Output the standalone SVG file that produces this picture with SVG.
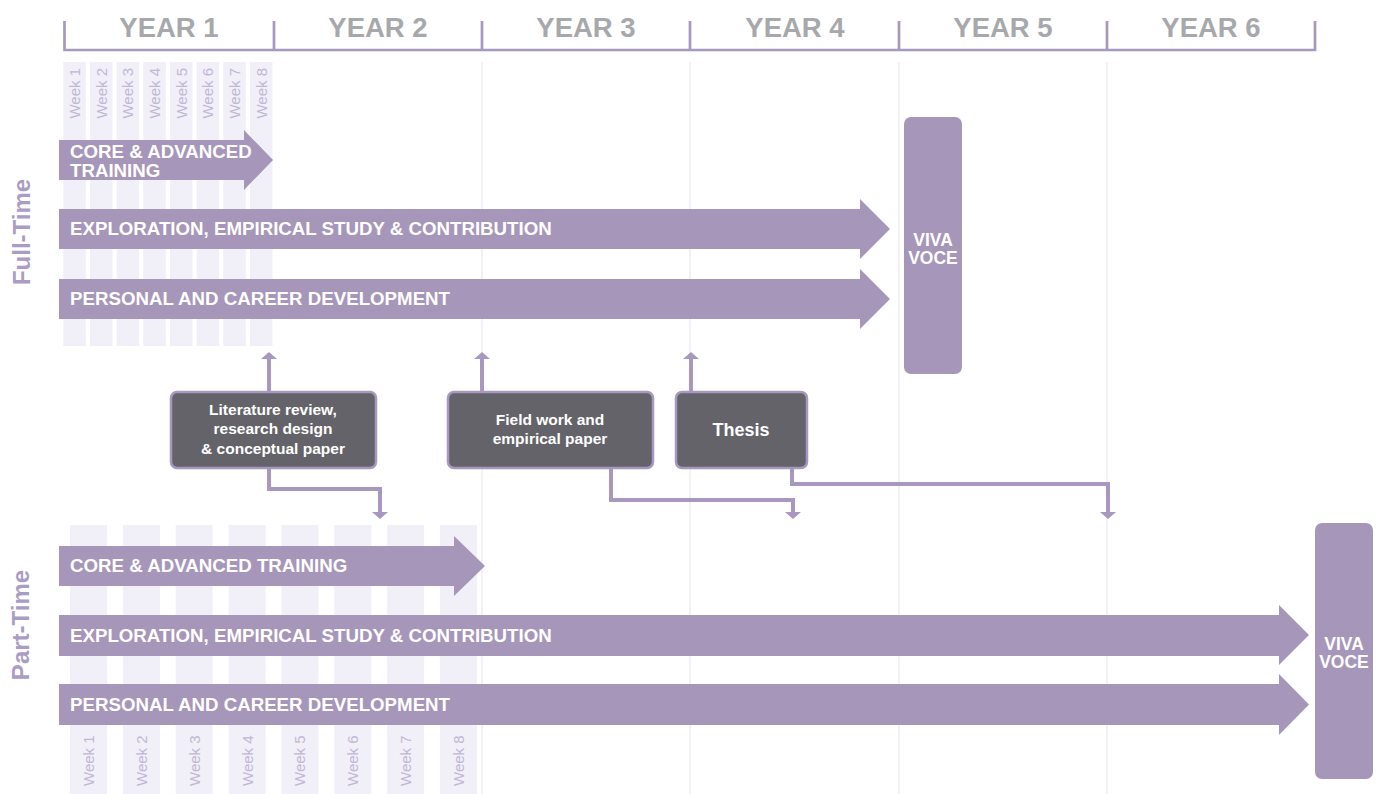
<svg xmlns="http://www.w3.org/2000/svg" width="1383" height="794" viewBox="0 0 1383 794">
<style>
.year{font-family:"Liberation Sans",Arial,sans-serif;font-weight:bold;font-size:27.5px;fill:#a7a8ab;text-anchor:middle}
.wk{font-family:"Liberation Sans",Arial,sans-serif;font-size:15px;fill:#c2b7d6}
.col{fill:#f1eff8}
.grid{stroke:#f2f1f7;stroke-width:2}
.bar{fill:#a696ba}
.bt{font-family:"Liberation Sans",Arial,sans-serif;font-weight:bold;font-size:18.7px;fill:#ffffff}
.viva{fill:#a696ba}
.vt{font-family:"Liberation Sans",Arial,sans-serif;font-weight:bold;font-size:17.5px;fill:#ffffff;text-anchor:middle}
.side{font-family:"Liberation Sans",Arial,sans-serif;font-weight:bold;font-size:24px;fill:#ab9cc4;text-anchor:middle}
.box{fill:#636369;stroke:#a898c0;stroke-width:2.5}
.boxt{font-family:"Liberation Sans",Arial,sans-serif;font-weight:bold;font-size:15.5px;fill:#ffffff;text-anchor:middle}
.conn{fill:none;stroke:#a898c0;stroke-width:4}
.head{fill:#a898c0}
</style>
<defs>
<marker id="ah" markerUnits="userSpaceOnUse" markerWidth="7" markerHeight="16" refX="0" refY="8" orient="auto" viewBox="0 0 7 16">
<polygon points="0,0 7,8 0,16" class="head"/>
</marker>
</defs>
<rect x="0" y="0" width="1383" height="794" fill="#ffffff"/>

<g id="grid">
<line class="grid" x1="482" y1="62" x2="482" y2="794"/>
<line class="grid" x1="690" y1="62" x2="690" y2="794"/>
<line class="grid" x1="899" y1="62" x2="899" y2="794"/>
<line class="grid" x1="1107" y1="62" x2="1107" y2="794"/>
</g>

<g id="timeline">
<path d="M64.5,21 V50 H1315 V21 M274,21 V50 M482,21 V50 M690,21 V50 M899,21 V50 M1107,21 V50" fill="none" stroke="#a898c0" stroke-width="2.7"/>
<text class="year" x="169" y="37">YEAR 1</text>
<text class="year" x="378" y="37">YEAR 2</text>
<text class="year" x="586" y="37">YEAR 3</text>
<text class="year" x="795" y="37">YEAR 4</text>
<text class="year" x="1003" y="37">YEAR 5</text>
<text class="year" x="1211" y="37">YEAR 6</text>
</g>

<g id="ft-weeks">
<rect class="col" x="63.3" y="62" width="22.5" height="284"/>
<rect class="col" x="90" y="62" width="22.5" height="284"/>
<rect class="col" x="116.7" y="62" width="22.5" height="284"/>
<rect class="col" x="143.3" y="62" width="22.5" height="284"/>
<rect class="col" x="170" y="62" width="22.5" height="284"/>
<rect class="col" x="196.7" y="62" width="22.5" height="284"/>
<rect class="col" x="223.3" y="62" width="22.5" height="284"/>
<rect class="col" x="250" y="62" width="22.5" height="284"/>
<text class="wk" text-anchor="end" transform="translate(80,68) rotate(-90)">Week 1</text>
<text class="wk" text-anchor="end" transform="translate(106.7,68) rotate(-90)">Week 2</text>
<text class="wk" text-anchor="end" transform="translate(133.3,68) rotate(-90)">Week 3</text>
<text class="wk" text-anchor="end" transform="translate(160,68) rotate(-90)">Week 4</text>
<text class="wk" text-anchor="end" transform="translate(186.7,68) rotate(-90)">Week 5</text>
<text class="wk" text-anchor="end" transform="translate(213.3,68) rotate(-90)">Week 6</text>
<text class="wk" text-anchor="end" transform="translate(240,68) rotate(-90)">Week 7</text>
<text class="wk" text-anchor="end" transform="translate(266.7,68) rotate(-90)">Week 8</text>
</g>

<g id="pt-weeks">
<rect class="col" x="70" y="525" width="37" height="269"/>
<rect class="col" x="122.9" y="525" width="37" height="269"/>
<rect class="col" x="175.7" y="525" width="37" height="269"/>
<rect class="col" x="228.6" y="525" width="37" height="269"/>
<rect class="col" x="281.4" y="525" width="37" height="269"/>
<rect class="col" x="334.3" y="525" width="37" height="269"/>
<rect class="col" x="387.1" y="525" width="37" height="269"/>
<rect class="col" x="440" y="525" width="37" height="269"/>
<text class="wk" transform="translate(94,786) rotate(-90)">Week 1</text>
<text class="wk" transform="translate(146.9,786) rotate(-90)">Week 2</text>
<text class="wk" transform="translate(199.7,786) rotate(-90)">Week 3</text>
<text class="wk" transform="translate(252.6,786) rotate(-90)">Week 4</text>
<text class="wk" transform="translate(305.4,786) rotate(-90)">Week 5</text>
<text class="wk" transform="translate(358.3,786) rotate(-90)">Week 6</text>
<text class="wk" transform="translate(411.1,786) rotate(-90)">Week 7</text>
<text class="wk" transform="translate(464,786) rotate(-90)">Week 8</text>
</g>

<g id="label-fulltime"><text class="side" transform="translate(30,232) rotate(-90)">Full-Time</text></g>
<g id="label-parttime"><text class="side" transform="translate(29,625) rotate(-90)">Part-Time</text></g>

<g id="ft-core">
<polygon class="bar" points="59,140 244,140 244,130 273,160 244,190 244,180 59,180"/>
<text class="bt" x="70" y="158.3">CORE &amp; ADVANCED</text>
<text class="bt" x="70" y="177.3">TRAINING</text>
</g>
<g id="ft-exploration">
<polygon class="bar" points="59,209 860,209 860,199 890,229 860,259 860,249 59,249"/>
<text class="bt" x="70" y="235">EXPLORATION, EMPIRICAL STUDY &amp; CONTRIBUTION</text>
</g>
<g id="ft-personal">
<polygon class="bar" points="59,279 860,279 860,269 890,299 860,329 860,319 59,319"/>
<text class="bt" x="70" y="305">PERSONAL AND CAREER DEVELOPMENT</text>
</g>
<g id="ft-viva">
<rect class="viva" x="904" y="117" width="58" height="257" rx="7"/>
<text class="vt" x="933" y="246">VIVA</text>
<text class="vt" x="933" y="264">VOCE</text>
</g>

<g id="pt-core">
<polygon class="bar" points="59,546 454,546 454,536 485,566 454,596 454,586 59,586"/>
<text class="bt" x="70" y="571.5">CORE &amp; ADVANCED TRAINING</text>
</g>
<g id="pt-exploration">
<polygon class="bar" points="59,615 1279,615 1279,605 1309,635 1279,665 1279,656 59,656"/>
<text class="bt" x="70" y="641.5">EXPLORATION, EMPIRICAL STUDY &amp; CONTRIBUTION</text>
</g>
<g id="pt-personal">
<polygon class="bar" points="59,684 1279,684 1279,674 1309,704.5 1279,735 1279,725 59,725"/>
<text class="bt" x="70" y="710.5">PERSONAL AND CAREER DEVELOPMENT</text>
</g>
<g id="pt-viva">
<rect class="viva" x="1315" y="523" width="58" height="256" rx="7"/>
<text class="vt" x="1344" y="650">VIVA</text>
<text class="vt" x="1344" y="668">VOCE</text>
</g>

<g id="connectors">
<path class="conn" d="M269,392 V359" marker-end="url(#ah)"/>
<path class="conn" d="M269,468 V489 H380 V512" marker-end="url(#ah)"/>
<path class="conn" d="M482,392 V359" marker-end="url(#ah)"/>
<path class="conn" d="M611,468 V500 H793 V512" marker-end="url(#ah)"/>
<path class="conn" d="M691,392 V359" marker-end="url(#ah)"/>
<path class="conn" d="M792,468 V484 H1108 V512" marker-end="url(#ah)"/>
</g>

<g id="box-literature">
<rect class="box" x="171" y="392" width="205" height="76" rx="6"/>
<text class="boxt" x="273" y="415">Literature review,</text>
<text class="boxt" x="273" y="434">research design</text>
<text class="boxt" x="273" y="454">&amp; conceptual paper</text>
</g>
<g id="box-fieldwork">
<rect class="box" x="448" y="392" width="205" height="76" rx="6"/>
<text class="boxt" x="550" y="425">Field work and</text>
<text class="boxt" x="550" y="444">empirical paper</text>
</g>
<g id="box-thesis">
<rect class="box" x="676" y="392" width="131" height="76" rx="6"/>
<text class="boxt" x="741" y="436" style="font-size:18px">Thesis</text>
</g>
</svg>
